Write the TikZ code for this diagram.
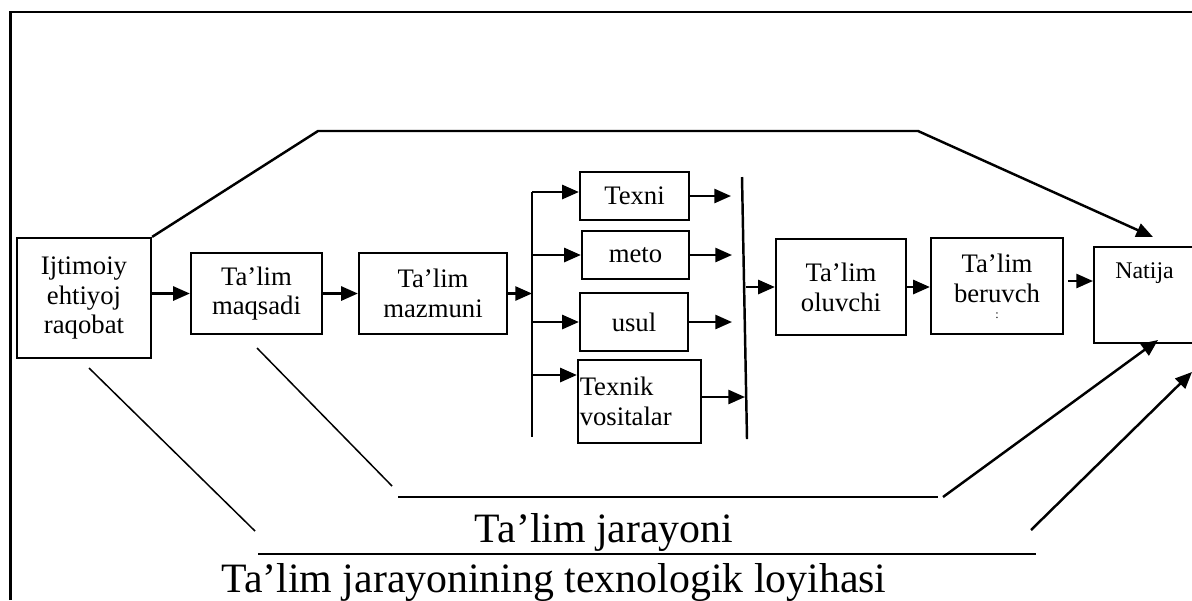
\documentclass[tikz,border=0pt]{standalone}
\usepackage{fontspec}
\setmainfont{Liberation Serif}
\usetikzlibrary{arrows.meta}

\begin{document}
\begin{tikzpicture}[x=0.02cm, y=-0.02cm,
  box/.style={draw, line width=1.3pt, rectangle, inner sep=1pt, align=center,
    font=\fontsize{15.2}{17}\selectfont},
  arr/.style={line width=1.4pt, -{Triangle[length=9.5pt,width=8pt]}},
  fine/.style={line width=0.85pt},
  big/.style={font=\fontsize{23.8}{26}\selectfont, inner sep=0pt}]
  \useasboundingbox (0,0) rectangle (1192,600);

  % outer frame
  \draw[line width=1.4pt] (10.5,600) -- (10.5,12) -- (1192,12);

  % boxes of the chain
  \node[box, minimum width=2.68cm, minimum height=2.4cm] (ijt) at (84,298) {Ijtimoiy\\ehtiyoj\\raqobat};
  \node[box, minimum width=2.62cm, minimum height=1.62cm] (maq) at (256.5,293.5) {Ta’lim\\maqsadi};
  \node[box, minimum width=2.96cm, minimum height=1.62cm] (maz) at (433,293.5) {Ta’lim\\mazmuni};
  \node[box, minimum width=2.18cm, minimum height=0.96cm] (tex) at (634.5,196) {Texni};
  \node[box, minimum width=2.14cm, minimum height=0.96cm] (met) at (635.5,255) {meto};
  \node[box, minimum width=2.16cm, minimum height=1.16cm] (usu) at (634,322) {usul};
  \node[box, text width=2.39cm, align=left, minimum height=1.66cm] (tvs) at (639.5,401.5) {Texnik\\vositalar};
  \node[box, minimum width=2.6cm, minimum height=1.92cm] (olu) at (841,287) {Ta’lim\\oluvchi};
  \node[box, minimum width=2.64cm, minimum height=1.92cm] (ber) at (997,286)
    {Ta’lim\\beruvch\\[-8pt]{\fontsize{7}{7}\selectfont :}};
  \node[box, anchor=north west, minimum width=2.6cm, minimum height=1.92cm] (nat) at (1093,246) {};
  \node[anchor=base west, inner sep=0pt, font=\fontsize{13.6}{15}\selectfont] (natt) at (1115,278) {Natija};

  \coordinate (b1t) at (532,192); % top of first bar
  \coordinate (b1b) at (532,437); % foot of first bar
  \coordinate (b2t) at (742,177); % top of second bar
  \coordinate (b2b) at (747,439); % foot of second bar
  \coordinate (b2m) at (746,287); % exit from second bar
  \coordinate (vin) at (532,375); % branch into Texnik vositalar
  \coordinate (tx) at (731,196);
  \coordinate (mx) at (732,255);
  \coordinate (ux) at (732,322);
  \coordinate (vx) at (745,397);
  \coordinate (bn) at (1068,281);

  % chain arrows
  \draw[arr] (ijt.east |- maq.west) -- (maq.west);
  \draw[arr] (maq.east) -- (maz.west);
  \draw[arr] (maz.east) -- (maz.east -| b1t);
  \draw[line width=1.4pt] (b1t) -- (b1b);
  \draw[arr] (b1t) -- (tex.west |- b1t);
  \draw[arr] (b1t |- met.west) -- (met.west);
  \draw[arr] (b1t |- usu.west) -- (usu.west);
  \draw[arr] (vin) -- (tvs.west |- vin);
  \draw[arr] (tex.east) -- (tx);
  \draw[arr] (met.east) -- (mx);
  \draw[arr] (usu.east) -- (ux);
  \draw[arr] (tvs.east |- vx) -- (vx);
  \draw[line width=1.4pt] (b2t) -- (b2b);
  \draw[arr] (b2m) -- (olu.west);
  \draw[arr] (olu.east) -- (olu.east -| ber.west);
  \draw[arr] (bn) -- (nat.west |- bn);

  % top route to Natija
  \coordinate (tl) at (318,131);
  \coordinate (tr) at (918,131);
  \coordinate (nt) at (1153,237);
  \draw[arr] (ijt.north east) -- (tl) -- (tr) -- (nt);

  % bottom routes
  \coordinate (d1a) at (89,368);
  \coordinate (d1b) at (255,531);
  \coordinate (d2a) at (257,348);
  \coordinate (d2b) at (392,486);
  \coordinate (j1) at (398,497);
  \coordinate (j2) at (938,497);
  \coordinate (j3) at (943,497);
  \coordinate (n1) at (1158,340);
  \coordinate (k1) at (258,554);
  \coordinate (k2) at (1036,554);
  \coordinate (k3) at (1031,530);
  \coordinate (n2) at (1192,372);
  \draw[fine] (d1a) -- (d1b);
  \draw[fine] (d2a) -- (d2b);
  \draw[line width=1.3pt] (j1) -- (j2);
  \draw[arr] (j3) -- (n1);
  \draw[line width=1.3pt] (k1) -- (k2);
  \draw[arr] (k3) -- (n2);

  \node[big, anchor=base] (jar) at (604,542) {Ta’lim jarayoni};
  \node[big, anchor=base] (loy) at (554,592) {Ta’lim jarayonining texnologik loyihasi};
\end{tikzpicture}
\end{document}
